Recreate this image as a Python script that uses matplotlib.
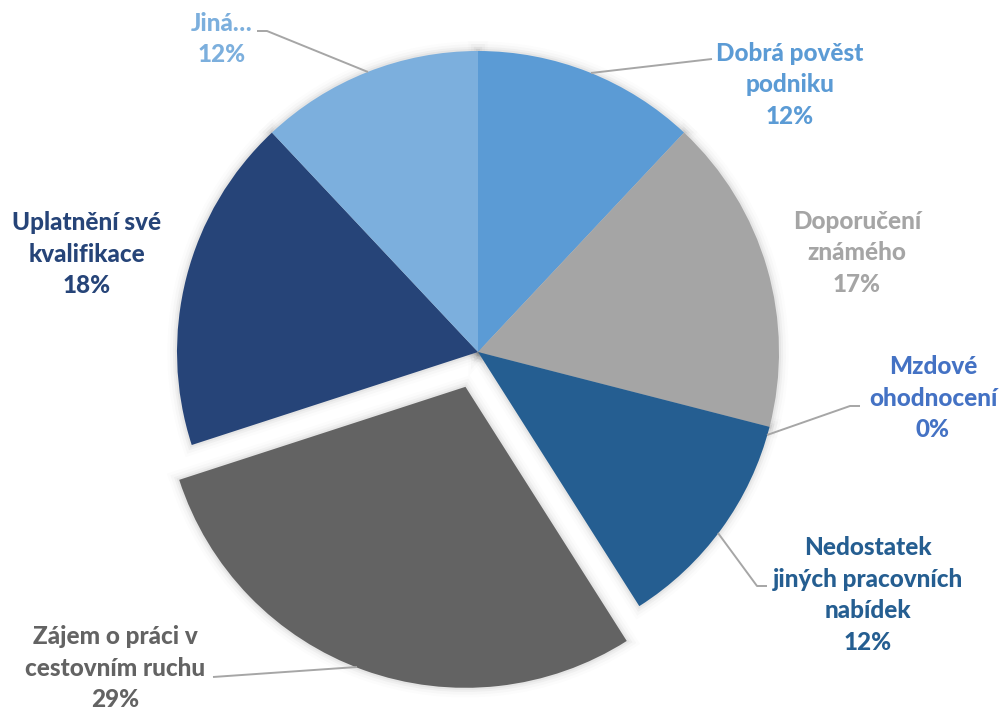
import matplotlib.pyplot as plt
from matplotlib.patches import PathPatch

plt.rcParams['font.family'] = ['Lato', 'DejaVu Sans']

W, H = 1007, 711

labels = ["Dobrá pověst\npodniku", "Doporučení\nznámého", "Mzdové\nohodnocení",
          "Nedostatek\njiných pracovních\nnabídek", "Zájem o práci v\ncestovním ruchu",
          "Uplatnění své\nkvalifikace", "Jiná…"]
shares = [12, 17, 0, 12, 29, 18, 12]
colors = ["#5B9BD5", "#A5A5A5", "#4472C4", "#255E91", "#636363", "#264478", "#7CAFDD"]
# pie() shifts exploded wedges by this amount in data units (pixels here)
explode = [0, 0, 0, 0, 37, 0, 0]

# label centres and leader lines, in pixel coordinates (y measured from the top)
label_pos = [(790, 85), (857, 253), (933, 398), (868, 595), (115, 668), (87, 254), (222, 39)]
leaders = [
    [(591, 73), (712, 59)],
    None,
    [(767, 435), (850, 406), (860, 406)],
    [(718, 533), (757, 586), (767, 586)],
    [(357, 667), (213, 677)],
    None,
    [(368, 72), (267, 31), (257, 31)],
]

fig = plt.figure(figsize=(W / 100, H / 100), dpi=100)
ax = fig.add_axes([0, 0, 1, 1])

wedges, _ = ax.pie(shares, colors=colors, explode=explode, startangle=90,
                   counterclock=False, center=(478, H - 352), radius=301,
                   wedgeprops=dict(linewidth=0))

# soft outer shadow: stacked translucent strokes behind the wedges
for w in wedges:
    path = w.get_path().transformed(w.get_patch_transform())
    for lw, a in [(14, 0.012), (10, 0.02), (6, 0.03), (3, 0.04)]:
        ax.add_patch(PathPatch(path, facecolor='none', edgecolor='black',
                               linewidth=lw, alpha=a, zorder=0))
    w.set_zorder(1)

for lab, val, col, (x, y), pts in zip(labels, shares, colors, label_pos, leaders):
    ax.text(x, H - y, f"{lab}\n{val}%", ha='center', va='center', color=col,
            fontsize=17.5, fontweight=900, linespacing=1.45, zorder=3)
    if pts:
        ax.plot([p[0] for p in pts], [H - p[1] for p in pts], color='#A6A6A6',
                linewidth=1.4, zorder=2, solid_capstyle='butt')

ax.set_xlim(0, W)
ax.set_ylim(0, H)
ax.set_aspect('equal')
ax.axis('off')

fig.savefig("out.png", dpi=100, facecolor='white')
